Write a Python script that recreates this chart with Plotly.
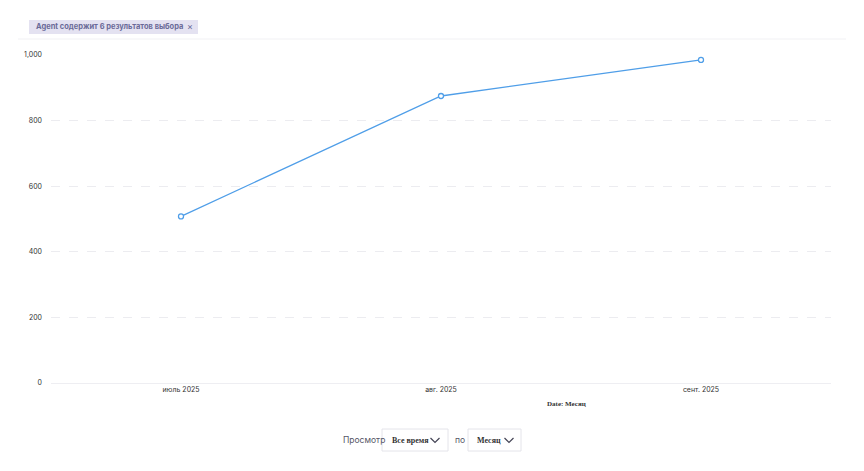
import plotly.graph_objects as go

categories = ["июль 2025", "авг. 2025", "сент. 2025"]
values = [508, 875, 985]
y_ticks = [0, 200, 400, 600, 800, 1000]
y_tick_labels = ["0", "200", "400", "600", "800", "1,000"]

OFF = 8  # page body margin
W, H = 864 - OFF, 471 - OFF
L, R, T, B = 51 - OFF, 831 - OFF, 55 - OFF, 383 - OFF
def px(x): return (x - OFF - L) / (R - L)
def py(y): return (B - (y - OFF)) / (B - T)

fig = go.Figure(go.Scatter(
    x=list(range(len(categories))), y=values, mode="lines+markers",
    line=dict(color="#4f9ee8", width=1.3),
    marker=dict(size=5, color="white", line=dict(color="#4f9ee8", width=1.3)),
    hoverinfo="skip"))

shapes = []
def rect(x0, y0, x1, y1, fill, line, lw=1):
    shapes.append(dict(type="rect", xref="paper", yref="paper", x0=px(x0), x1=px(x1),
                       y0=py(y1), y1=py(y0), fillcolor=fill, line=dict(color=line, width=lw), layer="below"))
def chev(cx, cy):
    x0, x1, x2 = px(cx - 4.5), px(cx), px(cx + 4.5)
    shapes.append(dict(type="path", xref="paper", yref="paper",
                       path=f"M {x0} {py(cy-2)} L {x1} {py(cy+2.5)} L {x2} {py(cy-2)}",
                       line=dict(color="#445", width=1.2)))

shapes.append(dict(type="line", xref="paper", yref="paper", x0=px(18), x1=px(846), y0=py(39), y1=py(39), line=dict(color="#f1f1f4", width=1)))
shapes.append(dict(type="rect", xref="paper", yref="paper", x0=px(29), x1=px(198), y0=py(34), y1=py(20),
                   fillcolor="#e4e2f1", line=dict(width=0), layer="below"))
rect(382, 429, 448, 451, "white", "#e4e4ea")
rect(468, 429, 521, 451, "white", "#e4e4ea")
chev(435, 440); chev(509, 440)

ann = []
def text(x, y, s, size, color, anchor="left", family="Inter, sans-serif"):
    ann.append(dict(xref="paper", yref="paper", x=px(x), y=py(y), text=s, showarrow=False,
                    xanchor=anchor, yanchor="middle", font=dict(size=size, color=color, family=family)))
text(34, 27, "<b>Agent содержит 6 результатов выбора</b>", 7.5, "#6a6a98")
text(190, 27, "×", 9, "#6a6a98", "center")
text(566, 404, "<b>Date: Месяц</b>", 7, "#333", "center", "Liberation Serif, serif")
text(341, 440, "Просмотр", 8.5, "#556")
text(390, 440, "<b>Все время</b>", 8, "#333", family="Liberation Serif, serif")
text(453, 440, "по", 8.5, "#556")
text(475, 440, "<b>Месяц</b>", 8, "#333", family="Liberation Serif, serif")

fig.update_layout(
    width=W, height=H, margin=dict(l=L, r=W - R, t=T, b=H - B),
    paper_bgcolor="white", plot_bgcolor="white", showlegend=False,
    shapes=shapes, annotations=ann,
    xaxis=dict(range=[-0.5, 2.5], tickvals=list(range(len(categories))), ticktext=categories,
               showgrid=False, zeroline=False, showline=True, linecolor="#eeeef2",
               tickfont=dict(size=7, color="#333", family="Inter, sans-serif")),
    yaxis=dict(range=[0, 1000], tickvals=y_ticks, ticktext=y_tick_labels,
               showgrid=True, gridcolor="#ececf0", griddash="dash", zeroline=False,
               ticklabelstandoff=8, tickfont=dict(size=7, color="#333", family="Inter, sans-serif")),
)
fig.write_html("out.html")
